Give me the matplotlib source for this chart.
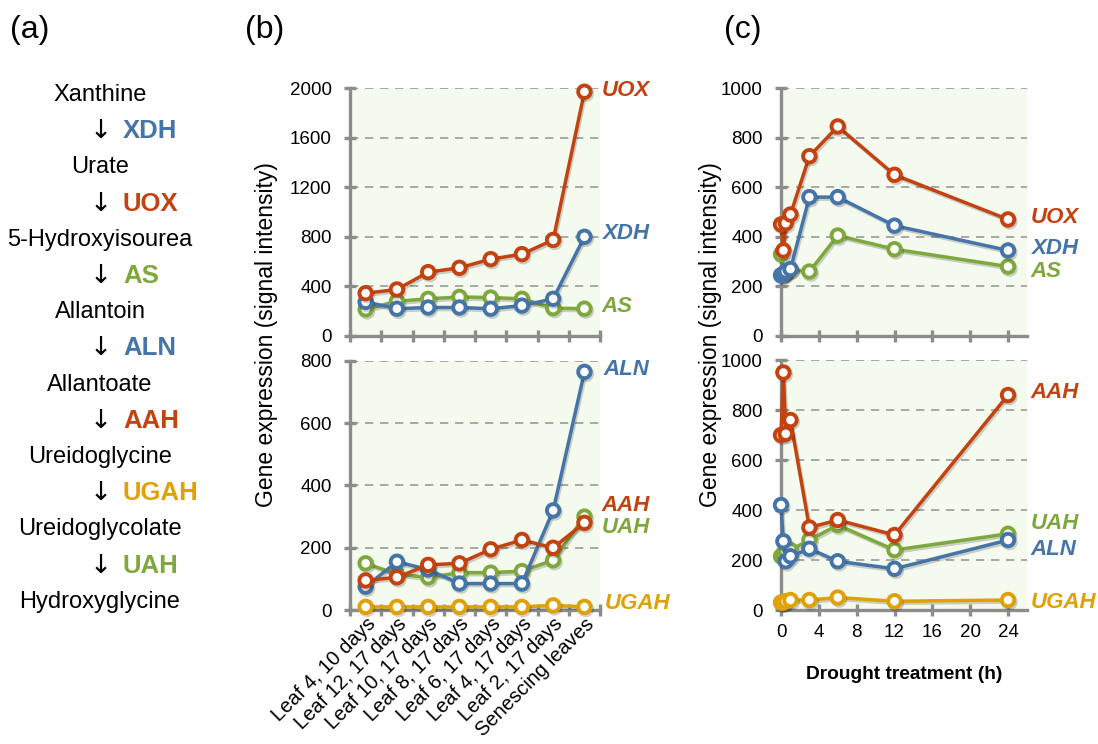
import matplotlib
matplotlib.use("Agg")
import matplotlib.pyplot as plt
import matplotlib.patheffects as pe

plt.rcParams['font.family'] = ['Liberation Sans', 'DejaVu Sans']

# colours
RED = '#C4420F'
BLUE = '#4474A8'
GREEN = '#7FA83C'
YELLOW = '#DFA106'
GRID = '#9A9A9A'
SPINE = '#8C8C8C'
BG = '#F4FBEE'

# panel (a): pathway
compounds = ['Xanthine', 'Urate', '5-Hydroxyisourea', 'Allantoin', 'Allantoate',
             'Ureidoglycine', 'Ureidoglycolate', 'Hydroxyglycine']
enzymes = ['XDH', 'UOX', 'AS', 'ALN', 'AAH', 'UGAH', 'UAH']
enzyme_colors = [BLUE, RED, GREEN, BLUE, RED, YELLOW, GREEN]

# panel (b): leaf series
leaf_labels = ['Leaf 4, 10 days', 'Leaf 12, 17 days', 'Leaf 10, 17 days', 'Leaf 8, 17 days',
               'Leaf 6, 17 days', 'Leaf 4, 17 days', 'Leaf 2, 17 days', 'Senescing leaves']
leaf_uox = [345, 375, 515, 550, 620, 660, 775, 1970]
leaf_xdh = [275, 220, 230, 230, 220, 245, 300, 800]
leaf_as = [215, 280, 300, 315, 310, 300, 225, 220]
leaf_aln = [75, 155, 130, 85, 85, 85, 320, 765]
leaf_aah = [95, 105, 145, 150, 195, 225, 200, 280]
leaf_uah = [150, 115, 105, 120, 120, 125, 160, 300]
leaf_ugah = [10, 10, 10, 10, 10, 10, 15, 10]

# panel (c): drought time course
hours = [0, 0.25, 0.5, 1, 3, 6, 12, 24]
dr_uox = [450, 345, 455, 490, 725, 845, 650, 470]
dr_xdh = [245, 250, 260, 270, 560, 560, 445, 345]
dr_as = [330, 250, 255, 268, 260, 405, 350, 280]
dr_aah = [700, 950, 705, 760, 330, 360, 300, 860]
dr_aln = [420, 275, 195, 215, 245, 195, 165, 280]
dr_uah = [215, 225, 235, 240, 280, 340, 240, 305]
dr_ugah = [30, 30, 35, 40, 40, 50, 35, 40]

fig = plt.figure(figsize=(10.98, 7.44), dpi=100)
shadow = [pe.SimpleLineShadow(offset=(1, -1.5), shadow_color='black', alpha=0.18), pe.Normal()]


def style_axes(ax, ymax, ystep):
    ax.set_facecolor(BG)
    for s in ['top', 'right']:
        ax.spines[s].set_visible(False)
    for s in ['left', 'bottom']:
        ax.spines[s].set_color(SPINE)
        ax.spines[s].set_linewidth(2.4)
    ax.set_ylim(0, ymax)
    ax.set_yticks(range(0, ymax + 1, ystep))
    for v in range(ystep, ymax + 1, ystep):
        ax.axhline(v, color=GRID, lw=1.2, ls=(0, (5, 4)), zorder=1)
    ax.tick_params(axis='y', direction='inout', length=8, width=2.4, color=SPINE,
                   labelsize=13.5, pad=9)
    ax.tick_params(axis='x', labelsize=13.5)


def plot_series(ax, x, y, color):
    ax.plot(x, y, color=color, lw=2.5, marker='o', ms=9, mfc='white', mec=color,
            mew=2.8, clip_on=False, zorder=3, path_effects=shadow)


def label(ax, x, y, text, color):
    ax.text(x, y, text, color=color, fontsize=16, fontweight='bold', style='italic',
            va='center', ha='left', clip_on=False)


# ---- panel (b) ----
xs = list(range(len(leaf_labels)))
axb1 = fig.add_axes([0.3188, 0.5484, 0.2277, 0.3333])
axb2 = fig.add_axes([0.3188, 0.1801, 0.2277, 0.3347])
for ax in (axb1, axb2):
    ax.set_xlim(-0.5, 7.5)
    ax.set_xticks(xs)
    ax.set_xticks([i - 0.5 for i in range(len(leaf_labels) + 1)], minor=True)
    ax.tick_params(axis='x', which='major', length=0)
    ax.tick_params(axis='x', which='minor', direction='inout', length=8, width=2.4,
                   color=SPINE)

style_axes(axb1, 2000, 400)
axb1.set_xticklabels([])
plot_series(axb1, xs, leaf_as, GREEN)
plot_series(axb1, xs, leaf_xdh, BLUE)
plot_series(axb1, xs, leaf_uox, RED)
label(axb1, 7.55, 1980, 'UOX', RED)
label(axb1, 7.55, 830, 'XDH', BLUE)
label(axb1, 7.55, 240, 'AS', GREEN)

style_axes(axb2, 800, 200)
plot_series(axb2, xs, leaf_ugah, YELLOW)
plot_series(axb2, xs, leaf_uah, GREEN)
plot_series(axb2, xs, leaf_aln, BLUE)
plot_series(axb2, xs, leaf_aah, RED)
axb2.set_xticklabels(leaf_labels, rotation=45, ha='right', rotation_mode='anchor',
                     fontsize=14.5)
axb2.tick_params(axis='x', which='major', pad=3)
label(axb2, 7.6, 772, 'ALN', BLUE)
label(axb2, 7.55, 336, 'AAH', RED)
label(axb2, 7.55, 266, 'UAH', GREEN)
label(axb2, 7.65, 22, 'UGAH', YELLOW)

fig.text(266 / 1098, 0.55, 'Gene expression (signal intensity)', rotation=90,
         fontsize=16.5, ha='center', va='center')

# ---- panel (c) ----
axc1 = fig.add_axes([0.7113, 0.5484, 0.2240, 0.3333])
axc2 = fig.add_axes([0.7113, 0.1801, 0.2240, 0.3360])
for ax in (axc1, axc2):
    ax.set_xlim(0, 26)
    ax.set_xticks(range(0, 25, 4))
    ax.tick_params(axis='x', direction='inout', length=8, width=2.4, color=SPINE)

style_axes(axc1, 1000, 200)
axc1.set_xticklabels([])
plot_series(axc1, hours, dr_as, GREEN)
plot_series(axc1, hours, dr_xdh, BLUE)
plot_series(axc1, hours, dr_uox, RED)
label(axc1, 26.4, 478, 'UOX', RED)
label(axc1, 26.4, 352, 'XDH', BLUE)
label(axc1, 26.4, 260, 'AS', GREEN)

style_axes(axc2, 1000, 200)
plot_series(axc2, hours, dr_ugah, YELLOW)
plot_series(axc2, hours, dr_uah, GREEN)
plot_series(axc2, hours, dr_aln, BLUE)
plot_series(axc2, hours, dr_aah, RED)
axc2.tick_params(axis='x', labelsize=13.5, pad=6)
axc2.set_xlabel('Drought treatment (h)', fontsize=13.8, fontweight='bold', labelpad=18)
label(axc2, 26.4, 872, 'AAH', RED)
label(axc2, 26.4, 348, 'UAH', GREEN)
label(axc2, 26.4, 244, 'ALN', BLUE)
label(axc2, 26.4, 32, 'UGAH', YELLOW)

fig.text(710 / 1098, 0.55, 'Gene expression (signal intensity)', rotation=90,
         fontsize=16.5, ha='center', va='center')

# ---- panel (a) ----
y0 = 95
step = 36.2
for i, name in enumerate(compounds):
    yp = 1 - (y0 + 2 * i * step) / 744
    fig.text(100 / 1098, yp, name, fontsize=17, ha='center', va='center')
    if i < len(enzymes):
        ya = 1 - (y0 + (2 * i + 1) * step) / 744
        fig.text(101 / 1098, ya, '\u2193', fontsize=19, ha='center', va='center',
                 family='DejaVu Sans')
        fig.text(123 / 1098, ya, enzymes[i], fontsize=18.5, fontweight='bold',
                 color=enzyme_colors[i], ha='left', va='center')

# panel letters
fig.text(10 / 1098, 1 - 30 / 744, '(a)', fontsize=23, va='center')
fig.text(245 / 1098, 1 - 30 / 744, '(b)', fontsize=23, va='center')
fig.text(724 / 1098, 1 - 30 / 744, '(c)', fontsize=23, va='center')

fig.savefig('out.png', dpi=100)
